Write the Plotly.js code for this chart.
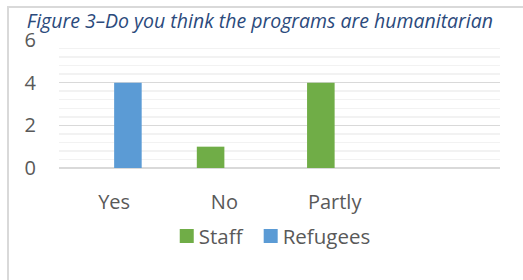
<!DOCTYPE html>
<html>
<head>
<meta charset="utf-8">
<script src="https://cdn.plot.ly/plotly-3.0.1.min.js"></script>
<style>
html,body{margin:0;padding:0;background:#fff;}
#wrap{position:relative;width:523px;height:280px;overflow:hidden;}
#chart{position:absolute;left:0;top:0;width:523px;height:280px;}
#frame{position:absolute;left:7px;top:6px;width:530px;height:290px;border-left:2px solid #D9D9D9;border-top:2px solid #D9D9D9;pointer-events:none;}
</style>
</head>
<body>
<div id="wrap"><div id="chart"></div><div id="frame"></div></div>
<script>
var categories = ["Yes", "No", "Partly"];
var staffValues = [0, 1, 4];
var refugeeValues = [4, 0, 0];
var yTicks = [0, 2, 4, 6];
var titleText = "Figure 3–Do you think the programs are humanitarian";

var fontFam = "'Open Sans', 'Liberation Sans', sans-serif";

var data = [
  {type: "bar", name: "Staff", x: categories, y: staffValues,
   marker: {color: "#70AD47", line: {width: 0}}},
  {type: "bar", name: "Refugees", x: categories, y: refugeeValues,
   marker: {color: "#5B9BD5", line: {width: 0}}}
];

var layout = {
  width: 523, height: 280,
  margin: {l: 59, r: 23, t: 39.5, b: 111.7, pad: 0},
  paper_bgcolor: "#fff", plot_bgcolor: "#fff",
  font: {family: fontFam, color: "#595959", size: 20},
  barmode: "group", bargap: 0.5, bargroupgap: 0,
  showlegend: true,
  title: {text: titleText, font: {family: fontFam, size: 19.5, color: "#2B4A7C", style: "italic"},
          xref: "container", yref: "container", x: 0.497, xanchor: "center", y: 1 - 21.5/280, yanchor: "middle"},
  xaxis: {type: "category", categoryorder: "array", categoryarray: categories, range: [-0.5, 3.5],
          showgrid: false, zeroline: false, showline: false, ticks: "", ticklabelstandoff: 20,
          tickfont: {size: 20, color: "#595959"}, fixedrange: true},
  yaxis: {range: [0, 6], tickvals: yTicks, ticktext: yTicks.map(String), showgrid: true, gridcolor: "#D9D9D9", gridwidth: 1.5,
          zeroline: true, zerolinecolor: "#D9D9D9", zerolinewidth: 1.5, showline: false, ticks: "",
          ticklabelstandoff: 22, tickfont: {size: 20, color: "#595959"},
          minor: {dtick: 0.4, tick0: 0, showgrid: true, gridcolor: "#F2F2F2", gridwidth: 1.5, ticks: ""}, fixedrange: true},
  legend: {orientation: "h", x: 0.49, xanchor: "center", y: -0.533, yanchor: "middle",
           font: {size: 20.5, color: "#595959"}, itemwidth: 30, bgcolor: "rgba(0,0,0,0)", traceorder: "normal"}
};

Plotly.newPlot("chart", data, layout, {displayModeBar: false, staticPlot: true}).then(function (gd) {
  // tighten legend: 14px swatch, swatch-to-text gap 5px, item gap 20px, centred on plot area
  var items = gd.querySelectorAll(".legend .traces");
  if (!items.length) return;
  var symGap = 5, itemGap = 20;
  var list = [], total = 0;
  items.forEach(function (it, i) {
    var sym = it.querySelector(".legendpoints path");
    sym.setAttribute("d", "M7,7H-7V-7H7Z");
    var txt = it.querySelector(".legendtext");
    var sr = sym.getBoundingClientRect();
    var tr = txt.getBoundingClientRect();
    var w = sr.width + symGap + tr.width;
    list.push({sym: sym, txt: txt, sr: sr, tr: tr, w: w, it: it});
    total += w + (i ? itemGap : 0);
  });
  var plotCenter = 59 + (523 - 59 - 23) / 2 - 4.5;
  var cur = plotCenter - total / 2;
  list.forEach(function (o) {
    var dx = cur - o.sr.left;
    var m = /translate\(([-\d.e]+)[ ,]*([-\d.e]*)\)/.exec(o.it.getAttribute("transform") || "");
    var tx = m ? parseFloat(m[1]) : 0, ty = m && m[2] ? parseFloat(m[2]) : 0;
    o.it.setAttribute("transform", "translate(" + (tx + dx) + "," + ty + ")");
    var txtX = parseFloat(o.txt.getAttribute("x")) || 40;
    var shift = (o.sr.right + symGap) - o.tr.left;
    o.txt.setAttribute("x", txtX + shift);
    o.txt.querySelectorAll("tspan[x]").forEach(function (t) {
      t.setAttribute("x", parseFloat(t.getAttribute("x")) + shift);
    });
    cur += o.w + itemGap;
  });
});
</script>
</body>
</html>
